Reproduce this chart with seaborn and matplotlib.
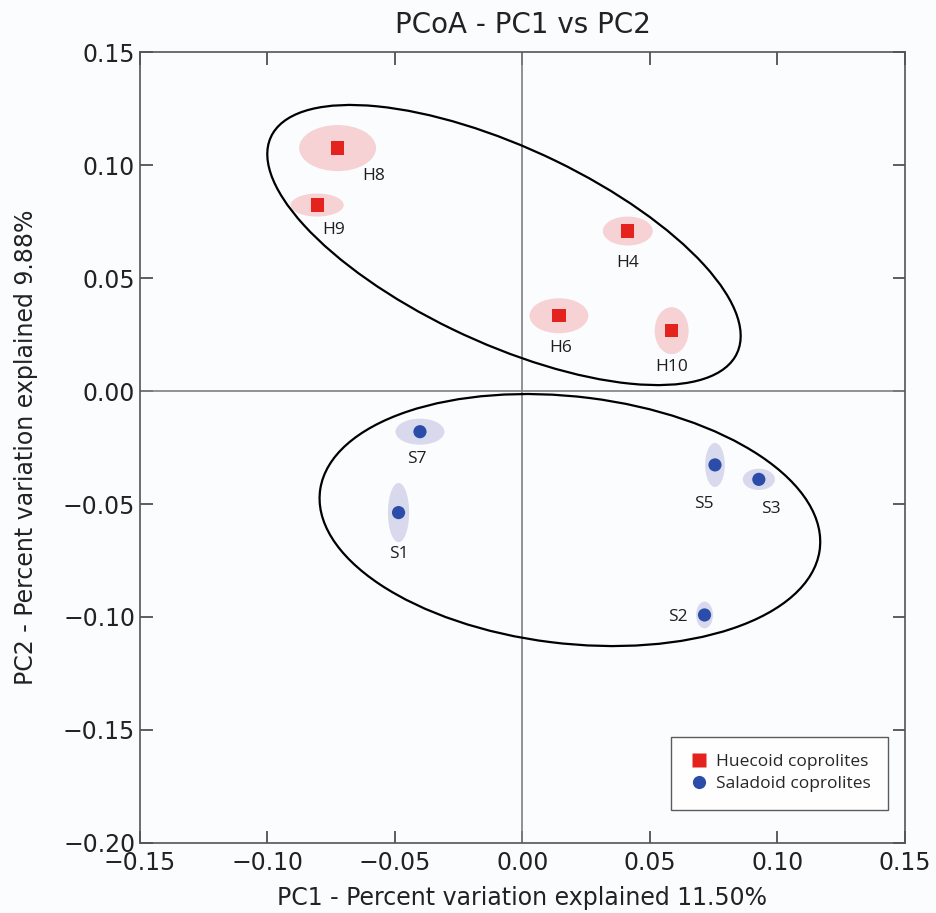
import numpy as np
import pandas as pd
import matplotlib
matplotlib.use("Agg")
import matplotlib.pyplot as plt
from matplotlib.patches import Ellipse
from matplotlib.ticker import FuncFormatter
import seaborn as sns

# sample coordinates (PC1, PC2)
samples = ["H8", "H9", "H4", "H6", "H10", "S7", "S1", "S5", "S3", "S2"]
groups = ["Huecoid coprolites"] * 5 + ["Saladoid coprolites"] * 5
pc1 = [-0.0725, -0.0805, 0.0413, 0.0143, 0.0585, -0.0402, -0.0486, 0.0755, 0.0927, 0.0714]
pc2 = [0.1075, 0.0823, 0.0708, 0.0333, 0.0267, -0.0180, -0.0538, -0.0327, -0.0391, -0.0991]

# spread of each sample (width along PC1, height along PC2)
spread_w = [0.0302, 0.0208, 0.0196, 0.0231, 0.0133, 0.0192, 0.0083, 0.0077, 0.0126, 0.0066]
spread_h = [0.0204, 0.0102, 0.0128, 0.0155, 0.0208, 0.0115, 0.0262, 0.0195, 0.0094, 0.0118]

# group ellipses: center x, center y, width, height, angle
group_cx = [-0.00725, 0.0186]
group_cy = [0.0646, -0.0571]
group_w = [0.2065, 0.1977]
group_h = [0.0848, 0.1091]
group_angle = [-28.7, -8.05]

df = pd.DataFrame({"PC1": pc1, "PC2": pc2, "group": groups, "sample": samples})

# label offsets in points
label_offsets = {
    "H8": (26, -20), "H9": (12, -18), "H4": (0, -23), "H6": (1.5, -23), "H10": (0, -26),
    "S7": (-2, -20), "S1": (0, -30), "S5": (-8, -28), "S3": (8.6, -21), "S2": (-19, -1.5),
}

palette = {"Huecoid coprolites": "#e5231e", "Saladoid coprolites": "#2b4ca8"}
shade = {"Huecoid coprolites": "#f7d2d5", "Saladoid coprolites": "#d8d9ec"}
markers = {"Huecoid coprolites": "s", "Saladoid coprolites": "o"}

sns.set_style("ticks")
plt.rcParams["font.family"] = ["DejaVu Sans"]

bg = "#fbfcfe"
fig = plt.figure(figsize=(9.37, 9.13), dpi=100, facecolor=bg)
ax = fig.add_axes([0.1494, 0.0767, 0.8164, 0.8663])
ax.set_facecolor(bg)

ax.axhline(0, color="#808080", lw=1.2, zorder=1)
ax.axvline(0, color="#808080", lw=1.2, zorder=1)

for x, y, w, h, g in zip(pc1, pc2, spread_w, spread_h, groups):
    ax.add_patch(Ellipse((x, y), w, h, facecolor=shade[g], edgecolor="none", zorder=2))

for cx, cy, w, h, a in zip(group_cx, group_cy, group_w, group_h, group_angle):
    ax.add_patch(Ellipse((cx, cy), w, h, angle=a, fill=False, edgecolor="black", lw=1.6, zorder=3))

sns.scatterplot(
    data=df, x="PC1", y="PC2", hue="group", style="group",
    palette=palette, markers=markers, s=90, edgecolor="none", ax=ax, zorder=4,
)

for x, y, name in zip(pc1, pc2, samples):
    dx, dy = label_offsets[name]
    ax.annotate(name, (x, y), xytext=(dx, dy), textcoords="offset points",
                ha="center", va="center", fontsize=12.5, family=["Open Sans", "DejaVu Sans"],
                color="#1e1e1e", zorder=5)

ax.set_xlim(-0.15, 0.15)
ax.set_ylim(-0.20, 0.15)
ax.set_xticks(np.arange(-0.15, 0.151, 0.05))
ax.set_yticks(np.arange(-0.20, 0.151, 0.05))
fmt = FuncFormatter(lambda v, p: f"{0.0 if abs(v) < 1e-9 else v:.2f}".replace("-", "\u2212"))
ax.xaxis.set_major_formatter(fmt)
ax.yaxis.set_major_formatter(fmt)
ax.tick_params(direction="in", length=9, width=1.1, labelsize=17, top=True, right=True,
               colors="#333333", labelcolor="#222222")
ax.tick_params(axis="x", pad=6)
for s in ax.spines.values():
    s.set_color("#555555")
    s.set_linewidth(1.2)

ax.set_title("PCoA - PC1 vs PC2", fontsize=20, color="#222222", pad=14)
ax.set_xlabel("PC1 - Percent variation explained 11.50%", fontsize=17, color="#222222", labelpad=8)
ax.set_ylabel("PC2 - Percent variation explained 9.88%", fontsize=17, color="#222222", labelpad=18)

handles, labels = ax.get_legend_handles_labels()
leg = ax.legend(handles, labels, loc="lower right", bbox_to_anchor=(0.978, 0.042),
                fancybox=False, frameon=True, edgecolor="#333333", facecolor="white",
                prop={"family": ["Open Sans", "DejaVu Sans"], "size": 12.5},
                handletextpad=0.4, borderpad=1.0, labelspacing=0.35, handlelength=1.2,
                borderaxespad=0)
leg.get_frame().set_linewidth(1.0)

fig.savefig("out.png", dpi=100, facecolor=bg)
